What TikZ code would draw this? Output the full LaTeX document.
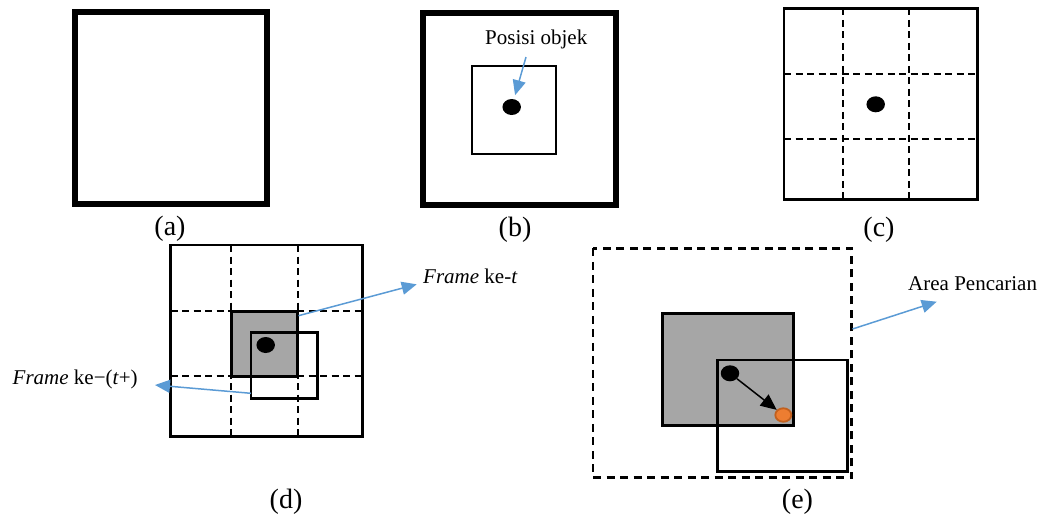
\documentclass[tikz,border=0pt]{standalone}
\usepackage{fontspec}
\setmainfont{Liberation Serif}
\usetikzlibrary{arrows.meta,shapes.geometric}
\definecolor{arrblue}{HTML}{5B9BD5}
\definecolor{boxgray}{HTML}{A6A6A6}
\definecolor{orfill}{HTML}{ED7D31}
\definecolor{ordraw}{HTML}{C2601E}
\begin{document}
\begin{tikzpicture}[x=1pt,y=-1pt,
  thickframe/.style={line width=6pt},
  gridline/.style={line width=2pt, dash pattern=on 7pt off 4.5pt},
  searchline/.style={line width=2.6pt, dash pattern=on 8pt off 5.5pt},
  outerbox/.style={line width=2.5pt},
  framebox/.style={line width=2.8pt},
  grayframe/.style={line width=3pt, fill=boxgray},
  objdot/.style={ellipse, fill=black, minimum width=18.5pt, minimum height=16pt, inner sep=0pt},
  newdot/.style={ellipse, fill=orfill, draw=ordraw, line width=1.8pt, minimum width=16pt, minimum height=13.5pt, inner sep=0pt},
  barrow/.style={draw=arrblue, line width=1.5pt, -{Triangle[length=15pt,width=13pt]}},
  karrow/.style={draw=black, line width=1.5pt, -{Triangle[length=16pt,width=14pt]}},
  caption/.style={font=\fontsize{28}{32}\selectfont, anchor=base, inner sep=0pt},
  note/.style={font=\fontsize{21}{25}\selectfont, anchor=base west, inner sep=0pt}
]
\useasboundingbox (0,0) rectangle (1041,515);

% ---------- (a)
\draw[thickframe] (74.5,12) rectangle (267,203.7);
\node[caption] (capa) at (170,235) {(a)};

% ---------- (b)
\draw[thickframe] (423.3,13.3) rectangle (616.3,205);
\draw[line width=2pt] (471.7,66) rectangle (555.7,154);
\node[objdot] (dotb) at (511.7,107) {};
\node[note] (lblb) at (485,44) {Posisi objek};
\coordinate (pb) at (526,57);
\draw[barrow, shorten >=4pt] (pb) -- (dotb);
\node[caption] (capb) at (515,236.5) {(b)};

% ---------- (c)
\draw[gridline] (843.3,8.3) -- (843.3,199.3);
\draw[gridline] (909.3,8.3) -- (909.3,199.3);
\draw[gridline] (784,74) -- (977.3,74);
\draw[gridline] (784,139.3) -- (977.3,139.3);
\draw[outerbox] (784,8.3) rectangle (977.3,199.3);
\node[objdot] (dotc) at (875.7,104.3) {};
\node[caption] (capc) at (879,236.5) {(c)};

% ---------- (d)
\draw[gridline] (231,245) -- (231,436.7);
\draw[gridline] (297.5,245) -- (297.5,436.7);
\draw[gridline] (170.7,311) -- (362.3,311);
\draw[gridline] (170.7,376) -- (362.3,376);
\draw[grayframe] (231,311) rectangle (297.5,376);
\draw[framebox] (251,332.3) rectangle (317.7,398.3);
\draw[outerbox] (170.7,245) rectangle (362.3,436.7);
\node[objdot] (dotd) at (265.7,345) {};
\node[note] (lblt) at (423,283.3) {\textit{Frame} ke-\textit{t}};
\node[note] (lbltp) at (12.5,384.3) {\textit{Frame} ke−(\textit{t}+)};
\coordinate (pt1) at (298.5,315.7);
\coordinate (pt2) at (416.7,284.3);
\coordinate (pq1) at (251,393.3);
\coordinate (pq2) at (155,385);
\draw[barrow] (pt1) -- (pt2);
\draw[barrow] (pq1) -- (pq2);
\node[caption] (capd) at (286,508) {(d)};

% ---------- (e)
\draw[searchline] (593,248.3) rectangle (851.7,477.7);
\draw[grayframe] (662.7,313.3) rectangle (793.3,425.7);
\draw[framebox] (717.3,360) rectangle (847.7,471.7);
\node[objdot] (dote) at (730,373.3) {};
\node[newdot] (dotn) at (783.3,415) {};
\draw[karrow] (dote) -- (dotn);
\node[note] (lbla) at (908,290.5) {Area Pencarian};
\coordinate (pa1) at (852.5,329);
\coordinate (pa2) at (936.7,301.7);
\draw[barrow] (pa1) -- (pa2);
\node[caption] (cape) at (797.5,508) {(e)};
\end{tikzpicture}
\end{document}
